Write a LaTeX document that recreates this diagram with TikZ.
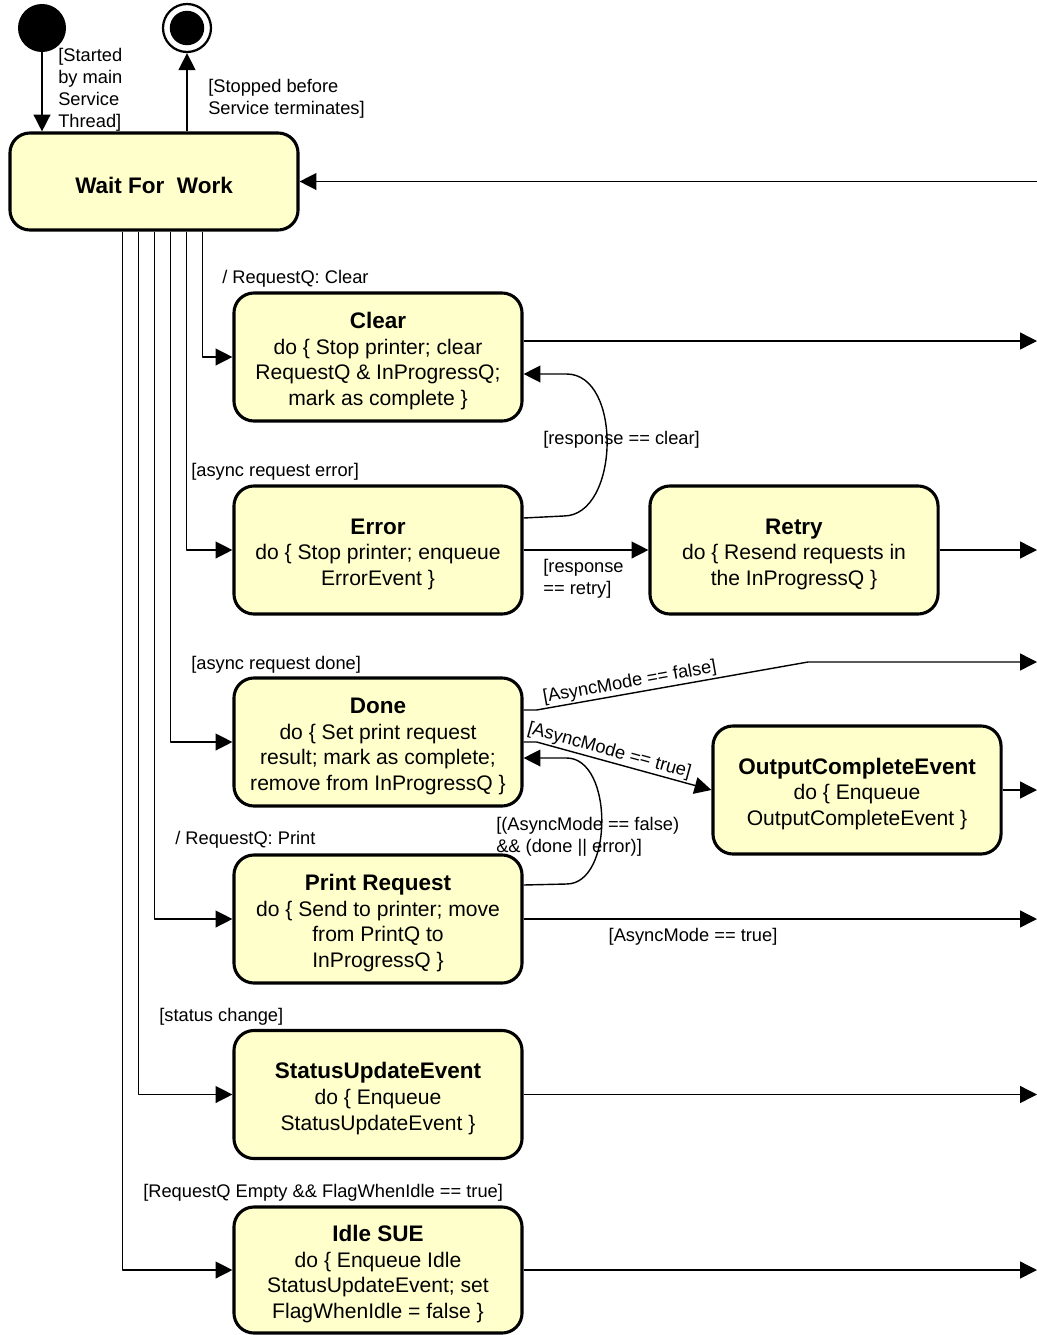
\documentclass[tikz,border=0pt]{standalone}
\usepackage{fontspec}
\setmainfont{Liberation Sans}
\usetikzlibrary{arrows.meta,calc,positioning}
\definecolor{statefill}{RGB}{255,255,204}
\newcommand{\stitle}[1]{{\fontsize{16}{18.2}\selectfont\bfseries\rule{0pt}{17.3pt}#1}}
\begin{document}
\begin{tikzpicture}[x=0.025cm,y=-0.025cm,>={Triangle[length=12pt,width=12pt]},line join=round,
	state/.style={draw,line width=2.2pt,rounded corners=0.5cm,fill=statefill,minimum width=7.2cm,minimum height=3.2cm,align=center,inner sep=2pt,font=\fontsize{15}{18.2}\selectfont},
	guard/.style={inner sep=0pt,align=left,font=\fontsize{13}{15.6}\selectfont},
	flow/.style={->,line width=1pt}]
	\useasboundingbox (0,0) rectangle (1037,1335);
	\coordinate (edge) at (1037,0);
	
	\node[circle,fill,minimum size=1.2cm,inner sep=0pt] (init) at (42,28) {};
	\node[circle,draw,line width=1.6pt,minimum size=1.2cm,inner sep=0pt] (fin) at (187,28) {};
	\fill (fin.center) circle (0.43cm);
	
	\node[state,minimum height=2.425cm] (wait) at (154,181.5) {\stitle{Wait For\ \ Work}};
	\node[state] (clear) at (378,357) {\stitle{Clear}\\do \{ Stop printer; clear\\RequestQ \& InProgressQ;\\mark as complete \}};
	\node[state] (error) at (378,550) {\stitle{Error}\\do \{ Stop printer; enqueue\\ErrorEvent \}};
	\node[state] (retry) at (794,550) {\stitle{Retry}\\do \{ Resend requests in\\the InProgressQ \}};
	\node[state] (done) at (378,742) {\stitle{Done}\\do \{ Set print request\\result; mark as complete;\\remove from InProgressQ \}};
	\node[state] (output) at (857,790) {\stitle{OutputCompleteEvent}\\do \{ Enqueue\\OutputCompleteEvent \}};
	\node[state] (print) at (378,919) {\stitle{Print Request}\\do \{ Send to printer; move\\from PrintQ to\\InProgressQ \}};
	\node[state] (status) at (378,1094.5) {\stitle{StatusUpdateEvent}\\do \{ Enqueue\\StatusUpdateEvent \}};
	\node[state,minimum height=3.15cm] (idle) at (378,1270) {\stitle{Idle SUE}\\do \{ Enqueue Idle\\StatusUpdateEvent; set\\FlagWhenIdle = false \}};
	
	\node[guard,anchor=north west] (lstart) at (58,48) {[Started\\by main\\Service\\Thread]};
	\node[guard,anchor=north west] (lstop) at (208,79) {[Stopped before\\Service terminates]};
	\node[guard,anchor=north west] (lclear) at (222,270) {/ RequestQ: Clear};
	\node[guard,anchor=north west] (lresp) at (543,431) {[response == clear]};
	\node[guard,anchor=north west] (lerror) at (191,463) {[async request error]};
	\node[guard,anchor=north west] (ldone) at (191,656) {[async request done]};
	\node[guard,anchor=north west] (lback) at (496,817) {[(AsyncMode == false)\\\&\& (done || error)]};
	\node[guard,anchor=north west] (lprint) at (175,831) {/ RequestQ: Print};
	\node[guard,anchor=north west] (lstatus) at (159,1008) {[status change]};
	\node[guard,anchor=north west] (lidle) at (143,1184) {[RequestQ Empty \&\& FlagWhenIdle == true]};
	
	\draw[flow] (init) -- (init |- wait.north);
	\draw[flow] (fin |- wait.north) -- (fin);
	\draw[flow] (wait.east -| edge) -- (wait.east);
	\foreach \dx/\dest in {194/clear,178/error,162/done,146/print,130/status,114/idle}
	\draw[flow] ($(wait.south west)+(\dx,0)$) |- (\dest.west);
	
	\draw[flow] ($(clear.east)+(0,-16)$) -- ($(clear.east -| edge)+(0,-16)$);
	\foreach \src in {retry,output,status,idle}
	\draw[flow] (\src.east) -- (\src.east -| edge);
	\draw[flow] (print.east) -- node[guard,pos=0.33,below=6pt]{[AsyncMode == true]} (print.east -| edge);
	
	\draw[flow] ($(error.east)+(0,-32)$) -- ++(40,-2) .. controls +(56,0) and +(56,0) .. ($(clear.east)+(43,17)$) -- ($(clear.east)+(0,17)$);
	\draw[flow] (error.east) -- node[guard,pos=0.48,below=6pt]{[response\\== retry]} (retry.west);
	
	\coordinate (kink) at (808,662);
	\draw[flow] ($(done.east)+(0,-32)$) -- ++(13,0) -- node[guard,pos=0.35,above=1pt,sloped]{[AsyncMode == false]} (kink) -- (kink -| edge);
	\draw[flow] (done.east) -- ++(13,0) -- node[guard,pos=0.4,above=1pt,sloped]{[AsyncMode == true]} (output.west);
	\draw[flow] ($(print.east)+(0,-34)$) -- ++(43,-1) .. controls +(47,0) and +(47,0) .. ($(done.east)+(43,16)$) -- ($(done.east)+(0,16)$);
	
\end{tikzpicture}
\end{document}
